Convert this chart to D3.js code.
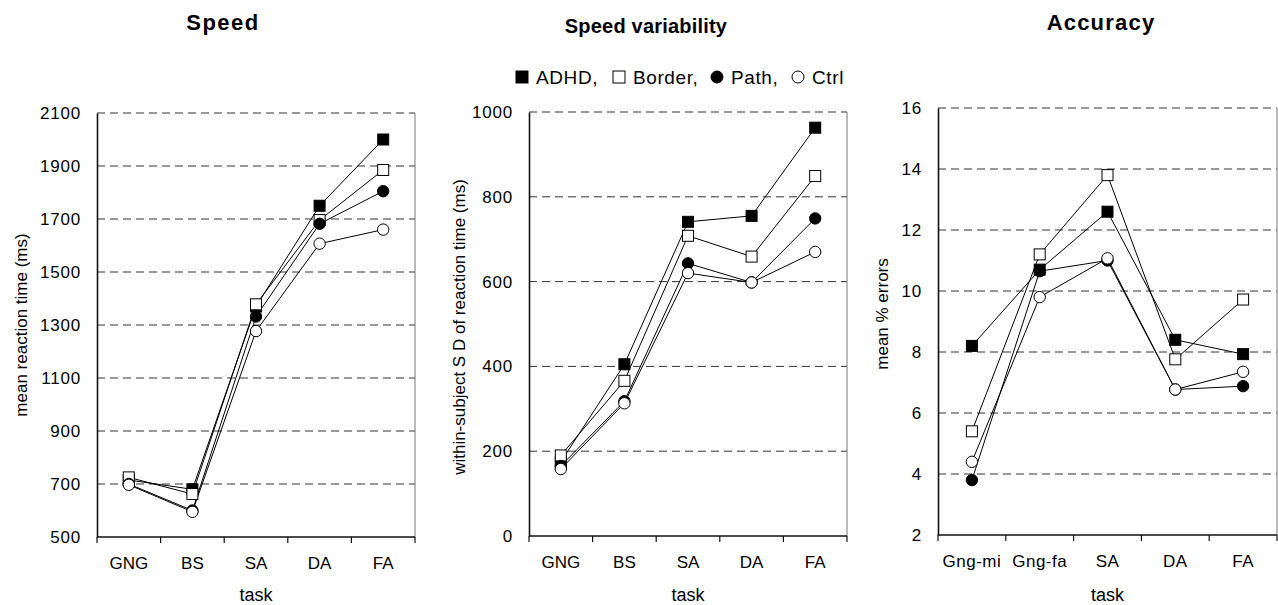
<!DOCTYPE html>
<html>
<head>
<meta charset="utf-8">
<title>Speed, speed variability and accuracy</title>
<script src="https://cdn.jsdelivr.net/npm/d3@7"></script>
<style>
  body { margin: 0; background: #fff; }
  svg { display: block; font-family: "Liberation Sans", Arial, sans-serif; }
</style>
</head>
<body>
<svg id="chart"></svg>
<script>
// Data
const speedTasks = ['GNG', 'BS', 'SA', 'DA', 'FA'];
const speedADHD = [715, 680, 1370, 1750, 2000];
const speedBorder = [725, 662, 1378, 1696, 1885];
const speedPath = [700, 600, 1332, 1682, 1805];
const speedCtrl = [697, 595, 1277, 1607, 1660];
const speedTicks = [500, 700, 900, 1100, 1300, 1500, 1700, 1900, 2100];

const varTasks = ['GNG', 'BS', 'SA', 'DA', 'FA'];
const varADHD = [175, 405, 741, 755, 963];
const varBorder = [190, 366, 708, 659, 849];
const varPath = [165, 318, 643, 598, 749];
const varCtrl = [158, 313, 620, 598, 670];
const varTicks = [0, 200, 400, 600, 800, 1000];

const accTasks = ['Gng-mi', 'Gng-fa', 'SA', 'DA', 'FA'];
const accADHD = [8.2, 10.7, 12.6, 8.4, 7.93];
const accBorder = [5.4, 11.2, 13.8, 7.76, 9.72];
const accPath = [3.8, 10.65, 11.0, 6.77, 6.88];
const accCtrl = [4.4, 9.8, 11.07, 6.77, 7.35];
const accTicks = [2, 4, 6, 8, 10, 12, 14, 16];

const groupNames = ['ADHD', 'Border', 'Path', 'Ctrl'];

// Marker style per group: shape + fill
const MARKERS = {
  ADHD: { shape: 'square', fill: '#000' },
  Border: { shape: 'square', fill: '#fff' },
  Path: { shape: 'circle', fill: '#000' },
  Ctrl: { shape: 'circle', fill: '#fff' }
};

const CONFIG = {
  width: 1278,
  height: 605,
  fontSize: 17,
  squareSize: 11,
  circleRadius: 5.7
};

const svg = d3.select('#chart')
  .attr('width', CONFIG.width)
  .attr('height', CONFIG.height);

/**
 * Draw one marker at (x, y)
 */
function drawMarker(g, name, x, y, size) {
  const m = MARKERS[name];
  if (m.shape === 'square') {
    g.append('rect')
      .attr('x', x - size / 2).attr('y', y - size / 2)
      .attr('width', size).attr('height', size)
      .attr('fill', m.fill).attr('stroke', '#000').attr('stroke-width', 1);
  } else {
    g.append('circle')
      .attr('cx', x).attr('cy', y).attr('r', size / 2)
      .attr('fill', m.fill).attr('stroke', '#000').attr('stroke-width', 1);
  }
}

/**
 * Draw one panel
 */
function drawPanel(p) {
  const g = svg.append('g');

  const x = d3.scaleBand().domain(p.tasks).range([p.left, p.right]);
  const y = d3.scaleLinear()
    .domain([p.ticks[0], p.ticks[p.ticks.length - 1]])
    .range([p.bottom, p.top]);

  // Dashed gridlines
  g.selectAll('.grid')
    .data(p.ticks.slice(1))
    .enter().append('line')
    .attr('x1', p.left).attr('x2', p.right)
    .attr('y1', d => y(d)).attr('y2', d => y(d))
    .attr('stroke', '#333')
    .attr('stroke-width', 1)
    .attr('stroke-dasharray', '8,5');

  // Right border
  g.append('line')
    .attr('x1', p.right).attr('x2', p.right)
    .attr('y1', p.top).attr('y2', p.bottom)
    .attr('stroke', '#777').attr('stroke-width', 1);

  // Y axis
  const yAxis = g.append('g')
    .attr('transform', `translate(${p.left},0)`)
    .call(d3.axisLeft(y).tickValues(p.ticks).tickFormat(d3.format('d')).tickSize(0).tickPadding(16));
  yAxis.select('.domain').attr('stroke', '#111').attr('stroke-width', 1.6);
  yAxis.selectAll('text')
    .attr('font-size', CONFIG.fontSize)
    .attr('font-family', '"Liberation Sans", Arial, sans-serif')
    .attr('fill', '#000')
    .attr('letter-spacing', 0.8);

  // X axis: ticks at category boundaries
  g.append('line')
    .attr('x1', p.left).attr('x2', p.right)
    .attr('y1', p.bottom).attr('y2', p.bottom)
    .attr('stroke', '#111').attr('stroke-width', 1.6);
  const bounds = d3.range(p.tasks.length + 1).map(i => x.range()[0] + i * x.step());
  g.selectAll('.xtick')
    .data(bounds)
    .enter().append('line')
    .attr('x1', d => d).attr('x2', d => d)
    .attr('y1', p.bottom).attr('y2', p.bottom + 6)
    .attr('stroke', '#111').attr('stroke-width', 1.2);
  g.selectAll('.xlabel')
    .data(p.tasks)
    .enter().append('text')
    .attr('x', d => x(d) + x.bandwidth() / 2)
    .attr('y', p.bottom + 32)
    .attr('text-anchor', 'middle')
    .attr('font-size', CONFIG.fontSize)
    .attr('letter-spacing', p.tickSpacing || 0)
    .text(d => d);

  // Axis titles
  g.append('text')
    .attr('x', (p.left + p.right) / 2)
    .attr('y', 601)
    .attr('text-anchor', 'middle')
    .attr('font-size', CONFIG.fontSize + 1)
    .text('task');
  g.append('text')
    .attr('transform', `translate(${p.yTitleX},${p.yTitleY}) rotate(-90)`)
    .attr('text-anchor', 'middle')
    .attr('font-size', CONFIG.fontSize)
    .text(p.yTitle);

  // Chart title
  g.append('text')
    .attr('x', p.titleX)
    .attr('y', p.titleY)
    .attr('text-anchor', 'middle')
    .attr('font-size', p.titleSize)
    .attr('font-weight', 'bold')
    .attr('letter-spacing', p.titleSpacing)
    .text(p.title);

  // Lines first, then markers
  const line = d3.line()
    .x((d, i) => x(p.tasks[i]) + x.bandwidth() / 2)
    .y(d => y(d));
  groupNames.forEach(name => {
    g.append('path')
      .attr('d', line(p.series[name]))
      .attr('fill', 'none')
      .attr('stroke', '#000')
      .attr('stroke-width', 1);
  });
  groupNames.forEach(name => {
    const mg = g.append('g');
    p.series[name].forEach((v, i) => {
      const size = MARKERS[name].shape === 'square' ? CONFIG.squareSize : CONFIG.circleRadius * 2;
      drawMarker(mg, name, x(p.tasks[i]) + x.bandwidth() / 2, y(v), size);
    });
  });
}

drawPanel({
  title: 'Speed', titleX: 223, titleY: 30, titleSize: 22, titleSpacing: 1.5,
  yTitle: 'mean reaction time (ms)', yTitleX: 27, yTitleY: 325,
  left: 97, right: 415, top: 113, bottom: 537,
  tasks: speedTasks, ticks: speedTicks,
  series: { ADHD: speedADHD, Border: speedBorder, Path: speedPath, Ctrl: speedCtrl }
});

drawPanel({
  title: 'Speed variability', titleX: 646, titleY: 33, titleSize: 20, titleSpacing: 0.2,
  yTitle: 'within-subject S D of reaction time (ms)', yTitleX: 465, yTitleY: 327,
  left: 529, right: 847, top: 112, bottom: 536,
  tasks: varTasks, ticks: varTicks,
  series: { ADHD: varADHD, Border: varBorder, Path: varPath, Ctrl: varCtrl }
});

drawPanel({
  title: 'Accuracy', titleX: 1101, titleY: 30, titleSize: 22, titleSpacing: 1.2,
  yTitle: 'mean % errors', yTitleX: 888, yTitleY: 314,
  left: 938, right: 1277, top: 108, bottom: 535,
  tasks: accTasks, ticks: accTicks, tickSpacing: 0.5,
  series: { ADHD: accADHD, Border: accBorder, Path: accPath, Ctrl: accCtrl }
});

// Legend above the middle panel
const legendItems = [
  { name: 'ADHD', label: 'ADHD,', x: 522 },
  { name: 'Border', label: 'Border,', x: 619 },
  { name: 'Path', label: 'Path,', x: 717 },
  { name: 'Ctrl', label: 'Ctrl', x: 798 }
];
const legend = svg.append('g');
legendItems.forEach(item => {
  drawMarker(legend, item.name, item.x, 77, 12);
  legend.append('text')
    .attr('x', item.x + 14)
    .attr('y', 84)
    .attr('font-size', 19)
    .attr('letter-spacing', 0.6)
    .text(item.label);
});
</script>
</body>
</html>
